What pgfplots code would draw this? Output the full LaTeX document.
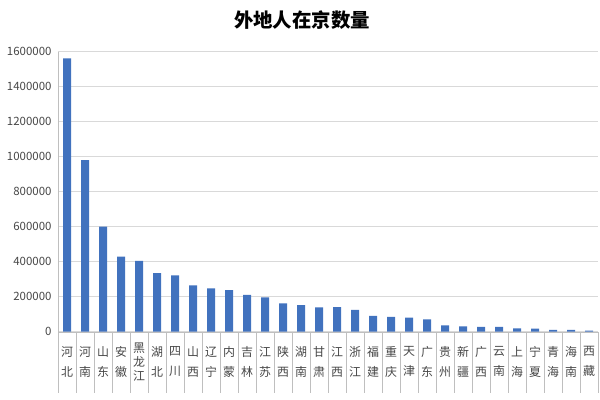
\documentclass[border=0pt]{standalone}
\usepackage{pgfplots}
\pgfplotsset{compat=1.18}
\usepackage{fontspec}
\setmainfont{Noto Sans CJK SC}
\definecolor{barblue}{RGB}{65,114,190}
\definecolor{gridgray}{RGB}{217,217,217}
\definecolor{axisgray}{RGB}{191,191,191}
\definecolor{labelgray}{RGB}{70,70,70}

\begin{document}
\begin{tikzpicture}
\path[use as bounding box] (0,0) rectangle (600bp,400bp);
\node[font=\fontsize{19.5}{22}\selectfont\bfseries] at (302bp,380bp) {外地人在京数量};
\begin{axis}[
    at={(58bp,68.3bp)}, anchor=south west,
    scale only axis,
    width=540bp, height=280bp,
    xmin=-0.5, xmax=29.5,
    ymin=0, ymax=1600000,
    ytick distance=200000,
    scaled y ticks=false,
    /pgf/number format/fixed,
    /pgf/number format/assume math mode=true,
    /pgf/number format/1000 sep={},
    axis x line*=bottom,
    axis y line*=left,
    axis line style={axisgray},
    ymajorgrids=true,
    major grid style={gridgray, line width=0.8bp},
    xtick=data,
    xticklabels={{河\\北},{河\\南},{山\\东},{安\\徽},{黑\\[-6bp]龙\\[-6bp]江},{湖\\北},{四\\川},{山\\西},{辽\\宁},{内\\蒙},{吉\\林},{江\\苏},{陕\\西},{湖\\南},{甘\\肃},{江\\西},{浙\\江},{福\\建},{重\\庆},{天\\津},{广\\东},{贵\\州},{新\\疆},{广\\西},{云\\南},{上\\海},{宁\\夏},{青\\海},{海\\南},{西\\藏}},
    minor xtick={-0.5,0.5,...,29.5},
    major tick length=0pt,
    minor tick length=61bp,
    xtick align=outside,
    minor x tick style={axisgray},
    ytick style={draw=none},
    xticklabel style={anchor=center, yshift=-30bp, align=center,
        font=\fontsize{12}{20}\selectfont, text=labelgray},
    yticklabel style={font=\fontsize{11.5}{13}\selectfont, text=labelgray, xshift=-3bp},
]
\addplot[ybar, bar width=8bp, fill=barblue, draw=none] coordinates {
    (0,1562000)(1,981000)(2,600000)(3,429000)(4,404000)
    (5,334000)(6,322000)(7,265000)(8,248000)(9,238000)
    (10,211000)(11,196000)(12,162000)(13,152000)(14,139000)
    (15,140000)(16,124000)(17,91000)(18,84000)(19,80000)
    (20,71000)(21,36000)(22,31000)(23,27000)(24,27000)
    (25,19000)(26,17000)(27,10000)(28,10000)(29,6000)
};
\end{axis}
\end{tikzpicture}
\end{document}
